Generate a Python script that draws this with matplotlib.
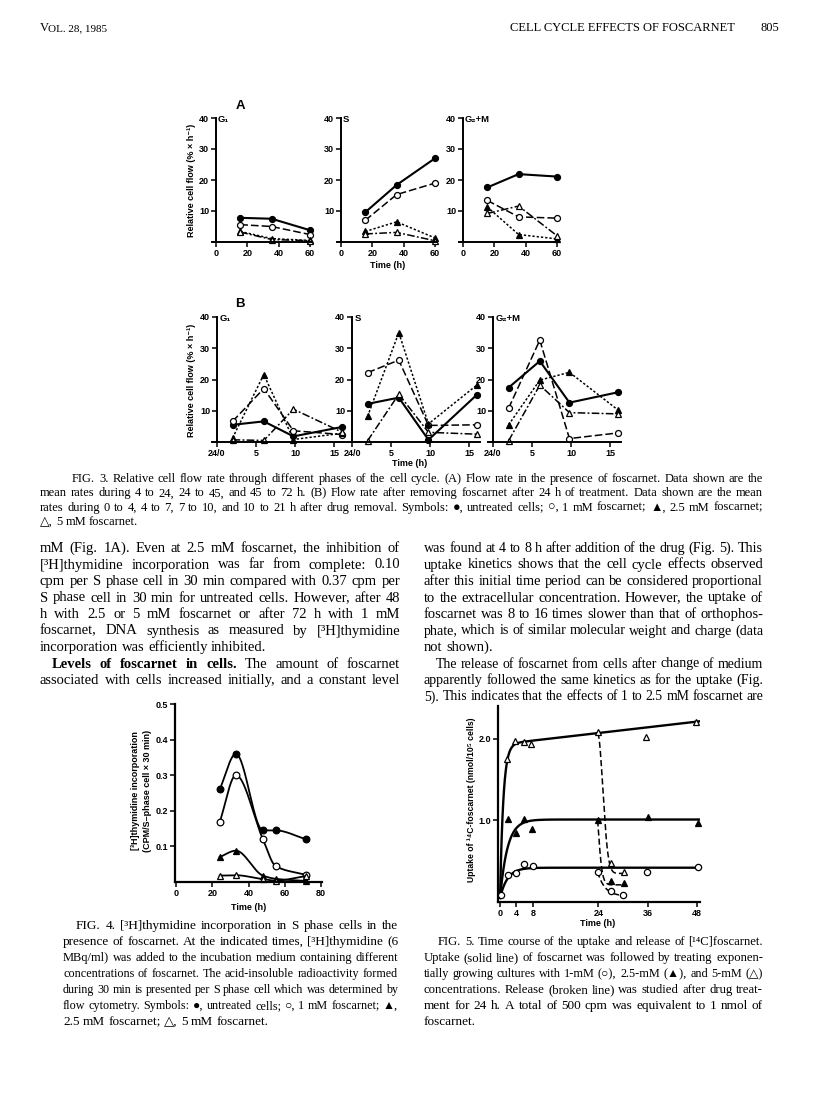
import matplotlib
matplotlib.use('Agg')
import matplotlib.pyplot as plt
import numpy as np
from matplotlib.transforms import IdentityTransform

W, H = 816, 1093
SANS = ['Liberation Sans', 'DejaVu Sans']
SERIF = ['Liberation Serif', 'DejaVu Serif', 'DejaVu Sans']

# ---------------- DATA ----------------
# Fig 3A (flow in presence of foscarnet), times (h)
t3a = [15.5, 35.5, 60]
a_g1_ctrl = [7.8, 7.5, 3.8]
a_g1_1mm = [5.6, 5.0, 2.4]
a_g1_25mm = [3.4, 1.1, 0.5]
a_g1_5mm = [3.2, 0.8, 0.4]
a_s_ctrl = [9.6, 18.4, 27.0]
a_s_1mm = [7.0, 15.3, 19.0]
a_s_25mm = [3.4, 6.5, 1.3]
a_s_5mm = [2.6, 3.1, 0.4]
a_g2_ctrl = [17.6, 21.9, 21.1]
a_g2_1mm = [13.4, 8.1, 7.7]
a_g2_25mm = [11.3, 2.4, 1.0]
a_g2_5mm = [9.2, 11.6, 2.0]
# Fig 3B (after removal), times (h)
t3b = [2, 6, 9.8, 16]
b_g1_ctrl = [5.5, 6.6, 1.8, 4.8]
b_g1_1mm = [6.6, 17.1, 3.6, 2.4]
b_g1_25mm = [1.3, 21.6, 0.8, 2.8]
b_g1_5mm = [0.7, 0.5, 10.5, 3.2]
b_s_ctrl = [12.2, 14.2, 0.7, 15.1]
b_s_1mm = [22.2, 26.2, 5.3, 5.5]
b_s_25mm = [8.2, 35.0, 5.8, 18.2]
b_s_5mm = [0.4, 15.3, 3.1, 2.5]
b_g2_ctrl = [17.4, 25.9, 12.6, 15.9]
b_g2_1mm = [10.8, 32.6, 1.1, 2.9]
b_g2_25mm = [5.5, 19.8, 22.3, 10.3]
b_g2_5mm = [0.4, 18.2, 9.4, 9.0]
a_xticks = [0, 20, 40, 60]
b_xticks = [0, 5, 10, 15]
b_xticklabels = ['24/0', '5', '10', '15']
flow_yticks = [10, 20, 30, 40]

# Fig 4 ([3H]thymidine incorporation)
t4 = [24, 33, 48, 55, 72]
f4_ctrl = [0.26, 0.36, 0.145, 0.145, 0.12]
f4_1mm = [0.168, 0.30, 0.12, 0.045, 0.02]
f4_25mm = [0.07, 0.088, 0.018, 0.009, 0.003]
f4_5mm = [0.018, 0.019, 0.008, 0.004, 0.017]
f4_xticks = [0, 20, 40, 60, 80]
f4_yticks = [0.1, 0.2, 0.3, 0.4, 0.5]

# Fig 5 (uptake / release of [14C]foscarnet)
t5_5mm = [1.6, 3.7, 5.9, 7.6, 23.8, 35.6, 47.8]
u5_5mm = [1.75, 1.97, 1.96, 1.93, 2.08, 2.02, 2.21]
t5_25mm = [1.9, 3.9, 5.8, 7.8, 23.8, 36, 48.2]
u5_25mm = [1.02, 0.84, 1.02, 0.89, 1.0, 1.04, 0.97]
t5_1mm = [0.3, 1.9, 3.9, 5.9, 8.0, 35.9, 48.2]
u5_1mm = [0.08, 0.33, 0.35, 0.46, 0.44, 0.37, 0.43]
tr5 = [27.1, 30.2]
r5_5mm = [0.48, 0.37]
r5_25mm = [0.26, 0.23]
tr5_1mm = [24.0, 27.2, 30.1]
r5_1mm = [0.37, 0.14, 0.08]
# fitted curve parameters: 5 mM, 2.5 mM, 1 mM
up_plateau = [1.93, 1.01, 0.42]
up_tau = [0.8, 1.8, 1.8]
up_slope = [0.0058, 0.0, 0.0]
rel_start = [2.07, 1.0, 0.37]
rel_end = [0.35, 0.21, 0.07]
rel_tau = [1.8, 0.8, 1.8]
rel_pow = [2.0, 1.3, 1.0]
f5_xticks = [0, 4, 8, 24, 36, 48]
f5_yticks = [1.0, 2.0]

# ---------------- FIGURE ----------------
fig = plt.figure(figsize=(W / 100, H / 100), dpi=100)
fig.patch.set_facecolor('white')
IDT = IdentityTransform()
renderer = fig.canvas.get_renderer()


def rect(left, top, right, bottom):
    return [left / W, 1 - bottom / H, (right - left) / W, (bottom - top) / H]


def text_px(x, y, s, **kw):
    return fig.text(x, H - y, s, transform=IDT, **kw)


STY = {
    'ctrl': dict(color='black', marker='o', mfc='black', ls='-', lw=1.5),
    '1mm': dict(color='black', marker='o', mfc='white', ls=(0, (5, 2)), lw=1.1),
    '25mm': dict(color='black', marker='^', mfc='black', ls=(0, (1.5, 1.3)), lw=1.1),
    '5mm': dict(color='black', marker='^', mfc='white', ls=(0, (5, 1.5, 1.2, 1.5)), lw=1.1),
}


def style_axes(ax, lw=1.4, size=6.5):
    for s in ['top', 'right']:
        ax.spines[s].set_visible(False)
    for s in ['left', 'bottom']:
        ax.spines[s].set_linewidth(lw)
    ax.tick_params(direction='out', length=3.5, width=1.1, pad=1.5, labelsize=size)
    for lab in ax.get_xticklabels() + ax.get_yticklabels():
        lab.set_fontfamily(SANS)
        lab.set_fontweight('bold')


def flow_panel(rect_, t, series, xlim, xticks, xticklabels, phase):
    ax = fig.add_axes(rect_)
    ax.patch.set_alpha(0)
    for key, vals in series:
        ax.plot(t, vals, ms=4.3, mew=0.9, clip_on=False, **STY[key])
    ax.set_xlim(*xlim)
    ax.set_ylim(0, 40)
    ax.spines['left'].set_position(('data', 0))
    ax.set_xticks(xticks)
    ax.set_xticklabels(xticklabels)
    ax.set_yticks(flow_yticks)
    style_axes(ax)
    ax.text(0.06, 0.99, phase, transform=ax.transAxes, fontsize=6.8, fontweight='bold',
            family=SANS, va='center', ha='left')
    return ax


# Fig 3A
pxu_a = 1.567
for ax0, ser, ph in [
    (216, [('ctrl', a_g1_ctrl), ('1mm', a_g1_1mm), ('25mm', a_g1_25mm), ('5mm', a_g1_5mm)], 'G\u2081'),
    (341, [('ctrl', a_s_ctrl), ('1mm', a_s_1mm), ('25mm', a_s_25mm), ('5mm', a_s_5mm)], 'S'),
    (463, [('ctrl', a_g2_ctrl), ('1mm', a_g2_1mm), ('25mm', a_g2_25mm), ('5mm', a_g2_5mm)], 'G\u2082+M'),
]:
    flow_panel(rect(ax0 - 2.5 * pxu_a, 118, ax0 + 60.7 * pxu_a, 242), t3a, ser,
               (-2.5, 60.7), a_xticks, [str(v) for v in a_xticks], ph)

# Fig 3B
pxu_b = 7.8
for ax0, ser, ph in [
    (217, [('ctrl', b_g1_ctrl), ('1mm', b_g1_1mm), ('25mm', b_g1_25mm), ('5mm', b_g1_5mm)], 'G\u2081'),
    (352, [('ctrl', b_s_ctrl), ('1mm', b_s_1mm), ('25mm', b_s_25mm), ('5mm', b_s_5mm)], 'S'),
    (493, [('ctrl', b_g2_ctrl), ('1mm', b_g2_1mm), ('25mm', b_g2_25mm), ('5mm', b_g2_5mm)], 'G\u2082+M'),
]:
    flow_panel(rect(ax0 - 0.7 * pxu_b, 317, ax0 + 16.4 * pxu_b, 442), t3b, ser,
               (-0.7, 16.4), b_xticks, b_xticklabels, ph)

for yc in [180, 380]:
    text_px(191, yc, 'Relative cell flow (% \u00d7 h\u207b\u00b9)', rotation=90, fontsize=6.5,
            fontweight='bold', family=SANS, ha='center', va='center')
text_px(240, 106, 'A', fontsize=9.5, fontweight='bold', family=SANS, ha='center', va='center')
text_px(240, 304, 'B', fontsize=9.5, fontweight='bold', family=SANS, ha='center', va='center')
text_px(388, 266, 'Time (h)', fontsize=6.5, fontweight='bold', family=SANS, ha='center', va='center')
text_px(410, 464, 'Time (h)', fontsize=6.5, fontweight='bold', family=SANS, ha='center', va='center')


def pchip(x, y, xs):
    x = np.asarray(x, float)
    y = np.asarray(y, float)
    h = np.diff(x)
    d = np.diff(y) / h
    m = np.zeros_like(y)
    for k in range(1, len(x) - 1):
        if d[k - 1] * d[k] > 0:
            w1 = 2 * h[k] + h[k - 1]
            w2 = h[k] + 2 * h[k - 1]
            m[k] = (w1 + w2) / (w1 / d[k - 1] + w2 / d[k])
    m[0] = d[0]
    m[-1] = d[-1]
    idx = np.clip(np.searchsorted(x, xs) - 1, 0, len(x) - 2)
    tt = (xs - x[idx]) / h[idx]
    h00 = 2 * tt ** 3 - 3 * tt ** 2 + 1
    h10 = tt ** 3 - 2 * tt ** 2 + tt
    h01 = -2 * tt ** 3 + 3 * tt ** 2
    h11 = tt ** 3 - tt ** 2
    return h00 * y[idx] + h10 * h[idx] * m[idx] + h01 * y[idx + 1] + h11 * h[idx] * m[idx + 1]


# Fig 4
ax4 = fig.add_axes(rect(175, 704, 322, 882))
ax4.patch.set_alpha(0)
xs = np.linspace(t4[0], t4[-1], 300)
for key, vals in [('ctrl', f4_ctrl), ('1mm', f4_1mm), ('25mm', f4_25mm), ('5mm', f4_5mm)]:
    st = STY[key]
    ax4.plot(xs, np.clip(pchip(t4, vals, xs), 0, None), color='black', lw=1.3, clip_on=False)
    ax4.plot(t4, vals, ls='none', marker=st['marker'], mfc=st['mfc'], mec='black', ms=4.8,
             mew=0.9, clip_on=False)
ax4.set_xlim(-0.8, 80.8)
ax4.set_ylim(0, 0.5)
ax4.set_xticks(f4_xticks)
ax4.set_yticks(f4_yticks)
ax4.set_yticklabels([f'{v:.1f}' for v in f4_yticks])
style_axes(ax4, lw=1.6)
text_px(136, 791, '[\u00b3H]thymidine incorporation', rotation=90, fontsize=6.5,
        fontweight='bold', family=SANS, ha='center', va='center')
text_px(147, 791, '(CPM/S\u2013phase cell \u00d7 30 min)', rotation=90, fontsize=6.5,
        fontweight='bold', family=SANS, ha='center', va='center')
text_px(249, 908, 'Time (h)', fontsize=6.5, fontweight='bold', family=SANS, ha='center', va='center')

# Fig 5
ax5 = fig.add_axes(rect(498, 706, 700, 902))
ax5.patch.set_alpha(0)
ts = np.linspace(0, 48.6, 500)
for P, tau, s in zip(up_plateau, up_tau, up_slope):
    y0 = 0.05
    ax5.plot(ts, y0 + (P - y0) * (1 - np.exp(-ts / tau)) + s * ts, color='black', lw=1.7)
tr = np.linspace(23.8, 30.2, 200)
for y_s, y_e, tau, p in zip(rel_start, rel_end, rel_tau, rel_pow):
    ax5.plot(tr, y_e + (y_s - y_e) * np.exp(-((tr - 23.8) / tau) ** p), color='black',
             lw=1.1, ls=(0, (4, 2)))
mk = dict(ls='none', mec='black', ms=4.5, mew=0.9, clip_on=False)
ax5.plot(t5_5mm, u5_5mm, marker='^', mfc='white', **mk)
ax5.plot(tr5, r5_5mm, marker='^', mfc='white', **mk)
ax5.plot(t5_25mm, u5_25mm, marker='^', mfc='black', **mk)
ax5.plot(tr5, r5_25mm, marker='^', mfc='black', **mk)
ax5.plot(t5_1mm, u5_1mm, marker='o', mfc='white', **mk)
ax5.plot(tr5_1mm, r5_1mm, marker='o', mfc='white', **mk)
ax5.set_xlim(-0.5, 48.8)
ax5.set_ylim(0, 2.4)
ax5.set_xticks(f5_xticks)
ax5.set_yticks(f5_yticks)
ax5.set_yticklabels([f'{v:.1f}' for v in f5_yticks])
style_axes(ax5, lw=1.6)
text_px(471, 800, 'Uptake of \u00b9\u2074C-foscarnet (nmol/10\u2075 cells)', rotation=90,
        fontsize=6.2, fontweight='bold', family=SANS, ha='center', va='center')
text_px(598, 924, 'Time (h)', fontsize=6.5, fontweight='bold', family=SANS, ha='center', va='center')


# ---------------- TEXT ----------------
def measure(s, size, weight='normal'):
    t = fig.text(0, 0, s, fontsize=size, fontweight=weight, family=SERIF, transform=IDT)
    w = t.get_window_extent(renderer=renderer).width
    t.remove()
    return w


def line(y, x0, x1, s, size, justify=True, bold_words=0):
    words = s.split(' ')
    weights = ['bold' if i < bold_words else 'normal' for i in range(len(words))]
    sp = measure('a a', size) - measure('aa', size)
    ws = [measure(w, size, wt) for w, wt in zip(words, weights)]
    nat = sum(ws) + sp * (len(words) - 1)
    if nat > (x1 - x0):
        f = (x1 - x0) / nat * 0.995
        size *= f
        ws = [w * f for w in ws]
        sp *= f
    gap = (x1 - x0 - sum(ws)) / (len(words) - 1) if (justify and len(words) > 1) else sp
    x = x0
    for w, wt, wd in zip(words, weights, ws):
        text_px(x, y, w, fontsize=size, fontweight=wt, family=SERIF, va='baseline', ha='left')
        x += wd + gap


def block(lines, x0, x1, y0, dy, size, indent=0, last_free=(), indent_lines=(0,), bold=None):
    bold = bold or {}
    for i, s in enumerate(lines):
        xi = x0 + (indent if i in indent_lines else 0)
        line(y0 + i * dy, xi, x1, s, size, justify=(i not in last_free), bold_words=bold.get(i, 0))


text_px(40, 31, 'V', fontsize=9, family=SERIF, va='baseline')
text_px(48.5, 31, 'OL. 28, 1985', fontsize=8, family=SERIF, va='baseline')
text_px(735, 31, 'CELL CYCLE EFFECTS OF FOSCARNET', fontsize=9, family=SERIF, va='baseline', ha='right')
text_px(779, 31, '805', fontsize=9, family=SERIF, va='baseline', ha='right')

cap3 = [
    'FIG. 3. Relative cell flow rate through different phases of the cell cycle. (A) Flow rate in the presence of foscarnet. Data shown are the',
    'mean rates during 4 to 24, 24 to 45, and 45 to 72 h. (B) Flow rate after removing foscarnet after 24 h of treatment. Data shown are the mean',
    'rates during 0 to 4, 4 to 7, 7 to 10, and 10 to 21 h after drug removal. Symbols: \u25cf, untreated cells; \u25cb, 1 mM foscarnet; \u25b2, 2.5 mM foscarnet;',
    '\u25b3, 5 mM foscarnet.',
]
block(cap3, 40, 763, 482, 14.3, 9, indent=32, last_free=(3,))

body_left = [
    'mM (Fig. 1A). Even at 2.5 mM foscarnet, the inhibition of',
    '[\u00b3H]thymidine incorporation was far from complete: 0.10',
    'cpm per S phase cell in 30 min compared with 0.37 cpm per',
    'S phase cell in 30 min for untreated cells. However, after 48',
    'h with 2.5 or 5 mM foscarnet or after 72 h with 1 mM',
    'foscarnet, DNA synthesis as measured by [\u00b3H]thymidine',
    'incorporation was efficiently inhibited.',
    'Levels of foscarnet in cells. The amount of foscarnet',
    'associated with cells increased initially, and a constant level',
]
block(body_left, 40, 400, 552, 16.5, 10.5, indent=12, last_free=(6,), indent_lines=(7,), bold={7: 5})

body_right = [
    'was found at 4 to 8 h after addition of the drug (Fig. 5). This',
    'uptake kinetics shows that the cell cycle effects observed',
    'after this initial time period can be considered proportional',
    'to the extracellular concentration. However, the uptake of',
    'foscarnet was 8 to 16 times slower than that of orthophos-',
    'phate, which is of similar molecular weight and charge (data',
    'not shown).',
    'The release of foscarnet from cells after change of medium',
    'apparently followed the same kinetics as for the uptake (Fig.',
    '5). This indicates that the effects of 1 to 2.5 mM foscarnet are',
]
block(body_right, 424, 763, 552, 16.5, 10.5, indent=12, last_free=(6,), indent_lines=(7,))

cap4 = [
    'FIG. 4. [\u00b3H]thymidine incorporation in S phase cells in the',
    'presence of foscarnet. At the indicated times, [\u00b3H]thymidine (6',
    'MBq/ml) was added to the incubation medium containing different',
    'concentrations of foscarnet. The acid-insoluble radioactivity formed',
    'during 30 min is presented per S phase cell which was determined by',
    'flow cytometry. Symbols: \u25cf, untreated cells; \u25cb, 1 mM foscarnet; \u25b2,',
    '2.5 mM foscarnet; \u25b3, 5 mM foscarnet.',
]
block(cap4, 63, 398, 929, 16, 9.5, indent=13, last_free=(6,))

cap5 = [
    'FIG. 5. Time course of the uptake and release of [\u00b9\u2074C]foscarnet.',
    'Uptake (solid line) of foscarnet was followed by treating exponen-',
    'tially growing cultures with 1-mM (\u25cb), 2.5-mM (\u25b2), and 5-mM (\u25b3)',
    'concentrations. Release (broken line) was studied after drug treat-',
    'ment for 24 h. A total of 500 cpm was equivalent to 1 nmol of',
    'foscarnet.',
]
block(cap5, 424, 763, 945, 16, 9.5, indent=14, last_free=(5,))

fig.savefig('out.png', dpi=100, facecolor='white')
